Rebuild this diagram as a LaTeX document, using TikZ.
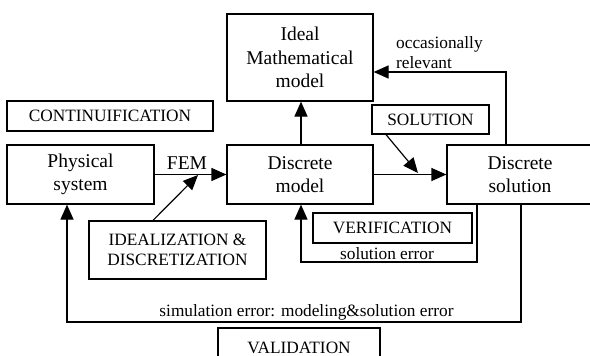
\documentclass[tikz,border=0pt]{standalone}
\usepackage{fontspec}
\setmainfont{Liberation Serif}
\usetikzlibrary{arrows.meta}
\begin{document}
\begin{tikzpicture}[x=1pt,y=-1pt,
  box/.style={draw,line width=1.2pt,rectangle,inner sep=0pt,align=center,font=\fontsize{19.5}{23.5}\selectfont},
  tagbox/.style={draw,line width=1.2pt,rectangle,inner sep=0pt,align=center,font=\fontsize{17.3}{19.5}\selectfont},
  lbl/.style={inner sep=0pt,font=\fontsize{17.3}{20}\selectfont},
  conn/.style={line width=1.2pt,-{Triangle[length=15pt,width=13pt]}}]
\useasboundingbox (0,0) rectangle (590,356);
\node[box,minimum width=146pt,minimum height=87pt] (ideal) at (300,57.5) {Ideal\\Mathematical\\model};
\node[tagbox,minimum width=206pt,minimum height=30pt] (cont) at (110,116) {CONTINUIFICATION};
\node[box,minimum width=147pt,minimum height=59pt] (phys) at (80.5,174.5) {Physical\\system};
\node[box,minimum width=146pt,minimum height=59pt] (dmodel) at (300,174.5) {Discrete\\model};
\node[box,minimum width=146pt,minimum height=59pt] (dsol) at (520,174.5) {Discrete\\solution};
\node[tagbox,minimum width=117pt,minimum height=29pt] (soln) at (430.5,119.5) {SOLUTION};
\node[tagbox,minimum width=177pt,minimum height=58pt] (ideali) at (177.5,250) {IDEALIZATION \&\\DISCRETIZATION};
\node[tagbox,minimum width=159pt,minimum height=30pt] (verif) at (392.5,228) {VERIFICATION};
\node[tagbox,minimum width=162pt,minimum height=40pt] (valid) at (299,348) {VALIDATION};
\node[lbl,anchor=base] (fem) at (187,169) {\fontsize{19.5}{23}\selectfont FEM};
\node[lbl,anchor=west,align=left] (occ) at (396,53) {occasionally\\relevant};
\node[lbl,anchor=base] (solerr) at (387,259) {solution error};
\node[lbl,anchor=base] (simerr) at (306.5,316) {simulation error: modeling\&solution error};
\coordinate (femtip) at (198,175);
\coordinate (soltip) at (418,173);
\draw[conn] (phys.east) -- (dmodel.west);
\draw[conn] (ideali.north -| 153,0) -- (femtip);
\draw[conn] (soln.south -| 386,0) -- (soltip);
\draw[conn] (dmodel.east) -- (dsol.west);
\draw[conn] (dmodel.north -| 301,0) -- (ideal.south -| 301,0);
\draw[conn] (dsol.north -| 506,0) |- (ideal.east |- 0,72);
\draw[conn] (dsol.south -| 477,0) -- (477,262) -| (dmodel.south -| 301,0);
\draw[conn] (dsol.south -| 521,0) -- (521,322) -| (phys.south -| 67,0);
\end{tikzpicture}
\end{document}
